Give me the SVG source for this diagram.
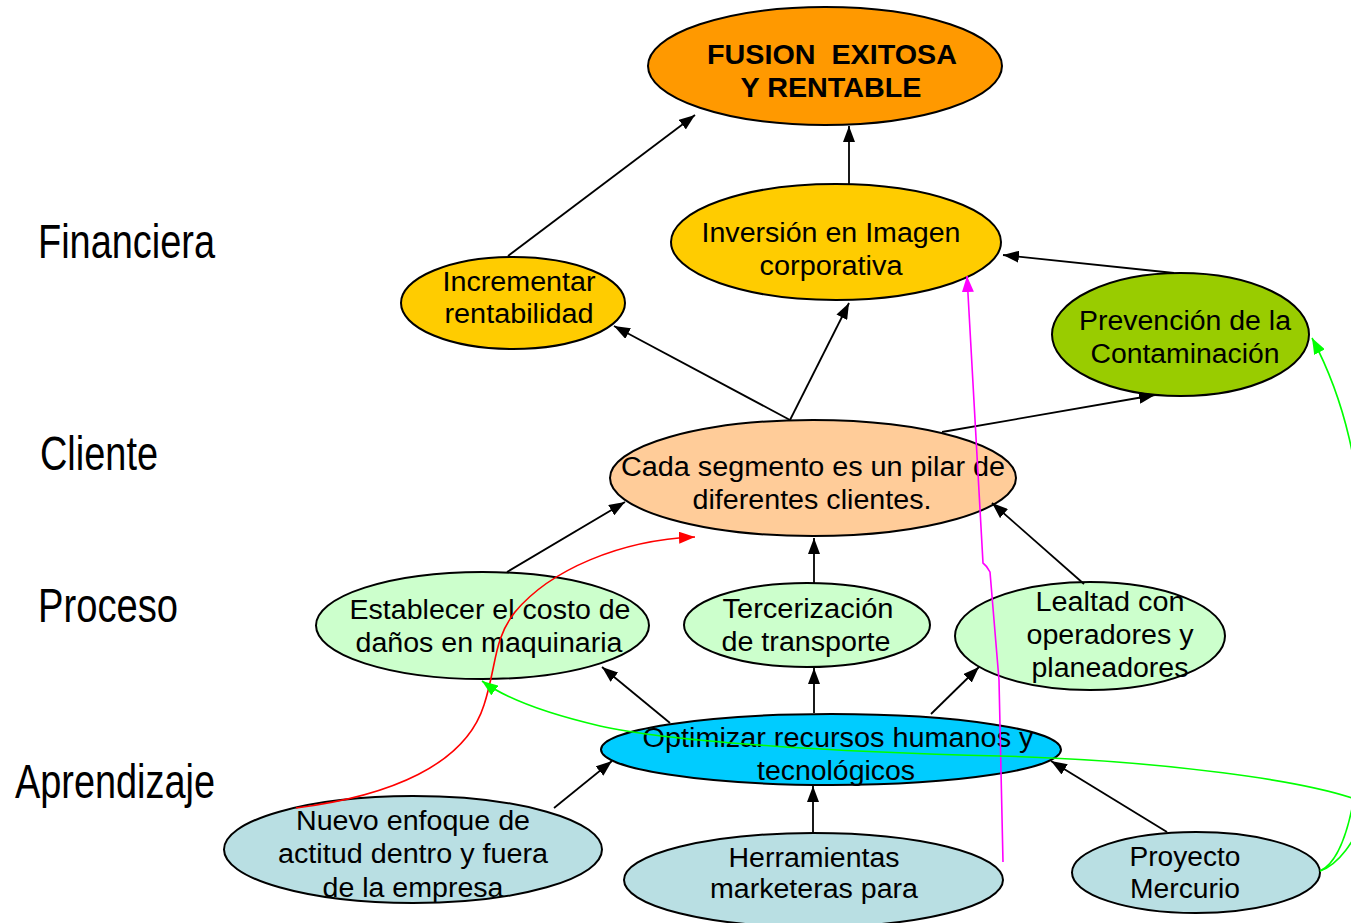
<svg xmlns="http://www.w3.org/2000/svg" width="1351" height="923" viewBox="0 0 1351 923">
<style>
  .n { stroke: #000; stroke-width: 2; }
  .t { font-family: "Liberation Sans", Arial, sans-serif; font-size: 27px; fill: #000; text-anchor: middle; }
  .b { font-weight: bold; font-size: 28px; }
  .lab { font-family: "Liberation Sans", Arial, sans-serif; font-size: 48px; fill: #000; }
  .k { stroke: #000; stroke-width: 1.8; fill: none; marker-end: url(#ak); }
  .red { stroke: #FF0000; stroke-width: 1.6; fill: none; marker-end: url(#ar); }
  .mag { stroke: #FF00FF; stroke-width: 1.6; fill: none; marker-end: url(#am); }
  .grn { stroke: #00FF00; stroke-width: 1.6; fill: none; }
</style>
<defs>
  <marker id="ak" viewBox="0 0 16 12" refX="16" refY="6" markerWidth="16" markerHeight="12" markerUnits="userSpaceOnUse" orient="auto"><path d="M0,0 L16,6 L0,12 z" fill="#000"/></marker>
  <marker id="ar" viewBox="0 0 16 12" refX="16" refY="6" markerWidth="16" markerHeight="12" markerUnits="userSpaceOnUse" orient="auto"><path d="M0,0 L16,6 L0,12 z" fill="#FF0000"/></marker>
  <marker id="am" viewBox="0 0 16 12" refX="16" refY="6" markerWidth="16" markerHeight="12" markerUnits="userSpaceOnUse" orient="auto"><path d="M0,0 L16,6 L0,12 z" fill="#FF00FF"/></marker>
  <marker id="ag" viewBox="0 0 16 12" refX="16" refY="6" markerWidth="16" markerHeight="12" markerUnits="userSpaceOnUse" orient="auto"><path d="M0,0 L16,6 L0,12 z" fill="#00FF00"/></marker>
</defs>
<rect width="1351" height="923" fill="#fff"/>

<g id="labels">
  <text class="lab" x="38" y="258" textLength="177" lengthAdjust="spacingAndGlyphs">Financiera</text>
  <text class="lab" x="40" y="470" textLength="118" lengthAdjust="spacingAndGlyphs">Cliente</text>
  <text class="lab" x="38" y="622" textLength="140" lengthAdjust="spacingAndGlyphs">Proceso</text>
  <text class="lab" x="15" y="798" textLength="200" lengthAdjust="spacingAndGlyphs">Aprendizaje</text>
</g>

<g id="fusion">
  <ellipse class="n" cx="825" cy="66" rx="177" ry="59" fill="#FF9900"/>
  <text class="t b" x="832" y="64" xml:space="preserve" textLength="250" lengthAdjust="spacingAndGlyphs">FUSION  EXITOSA</text>
  <text class="t b" x="831" y="97" textLength="181" lengthAdjust="spacingAndGlyphs">Y RENTABLE</text>
</g>
<g id="inversion">
  <ellipse class="n" cx="836" cy="242" rx="165" ry="58" fill="#FFCC00"/>
  <text class="t" x="831" y="242" textLength="259" lengthAdjust="spacingAndGlyphs">Inversión en Imagen</text>
  <text class="t" x="831" y="275" textLength="143" lengthAdjust="spacingAndGlyphs">corporativa</text>
</g>
<g id="incrementar">
  <ellipse class="n" cx="513" cy="303" rx="112" ry="46" fill="#FFCC00"/>
  <text class="t" x="519" y="291" textLength="153" lengthAdjust="spacingAndGlyphs">Incrementar</text>
  <text class="t" x="519" y="323" textLength="149" lengthAdjust="spacingAndGlyphs">rentabilidad</text>
</g>
<g id="prevencion">
  <ellipse class="n" cx="1180.5" cy="334.5" rx="128.5" ry="61.5" fill="#99CC00"/>
  <text class="t" x="1185" y="330" textLength="212" lengthAdjust="spacingAndGlyphs">Prevención de la</text>
  <text class="t" x="1185" y="363" textLength="189" lengthAdjust="spacingAndGlyphs">Contaminación</text>
</g>
<g id="cada">
  <ellipse class="n" cx="813" cy="478" rx="203" ry="58" fill="#FFCC99"/>
  <text class="t" x="813" y="476" textLength="384" lengthAdjust="spacingAndGlyphs">Cada segmento es un pilar de</text>
  <text class="t" x="812" y="509" textLength="239" lengthAdjust="spacingAndGlyphs">diferentes clientes.</text>
</g>
<g id="establecer">
  <ellipse class="n" cx="482.5" cy="625.5" rx="166.5" ry="53.5" fill="#CCFFCC"/>
  <text class="t" x="490" y="619" textLength="281" lengthAdjust="spacingAndGlyphs">Establecer el costo de</text>
  <text class="t" x="489" y="652" textLength="267" lengthAdjust="spacingAndGlyphs">daños en maquinaria</text>
</g>
<g id="tercerizacion">
  <ellipse class="n" cx="807" cy="625" rx="123" ry="42" fill="#CCFFCC"/>
  <text class="t" x="808" y="618" textLength="171" lengthAdjust="spacingAndGlyphs">Tercerización</text>
  <text class="t" x="806" y="651" textLength="169" lengthAdjust="spacingAndGlyphs">de transporte</text>
</g>
<g id="lealtad">
  <ellipse class="n" cx="1090" cy="636" rx="135" ry="54" fill="#CCFFCC"/>
  <text class="t" x="1110" y="611" textLength="149" lengthAdjust="spacingAndGlyphs">Lealtad con</text>
  <text class="t" x="1110" y="644" textLength="167" lengthAdjust="spacingAndGlyphs">operadores y</text>
  <text class="t" x="1110" y="677" textLength="157" lengthAdjust="spacingAndGlyphs">planeadores</text>
</g>
<g id="optimizar">
  <ellipse class="n" cx="831" cy="749.5" rx="230" ry="35.5" fill="#00CCFF"/>
  <text class="t" x="838" y="747" textLength="391" lengthAdjust="spacingAndGlyphs">Optimizar recursos humanos y</text>
  <text class="t" x="836" y="780" textLength="158" lengthAdjust="spacingAndGlyphs">tecnológicos</text>
</g>
<g id="nuevo">
  <ellipse class="n" cx="413" cy="849.5" rx="189" ry="53.5" fill="#B9DFE3"/>
  <text class="t" x="413" y="830" textLength="234" lengthAdjust="spacingAndGlyphs">Nuevo enfoque de</text>
  <text class="t" x="413" y="863" textLength="270" lengthAdjust="spacingAndGlyphs">actitud dentro y fuera</text>
  <text class="t" x="413" y="897" textLength="181" lengthAdjust="spacingAndGlyphs">de la empresa</text>
</g>
<g id="herramientas">
  <ellipse class="n" cx="813.5" cy="880" rx="189.5" ry="47" fill="#B9DFE3"/>
  <text class="t" x="814" y="867" textLength="171" lengthAdjust="spacingAndGlyphs">Herramientas</text>
  <text class="t" x="814" y="898" textLength="208" lengthAdjust="spacingAndGlyphs">marketeras para</text>
</g>
<g id="proyecto">
  <ellipse class="n" cx="1196" cy="872.5" rx="124" ry="40.5" fill="#B9DFE3"/>
  <text class="t" x="1185" y="866" textLength="111" lengthAdjust="spacingAndGlyphs">Proyecto</text>
  <text class="t" x="1185" y="898" textLength="110" lengthAdjust="spacingAndGlyphs">Mercurio</text>
</g>

<g id="connectors">
  <line class="k" x1="508" y1="256" x2="695" y2="115"/>
  <line class="k" x1="849" y1="184" x2="849" y2="126"/>
  <line class="k" x1="1174" y1="273" x2="1003" y2="255"/>
  <line class="k" x1="790" y1="420" x2="614" y2="326"/>
  <line class="k" x1="790" y1="420" x2="849" y2="303"/>
  <line class="k" x1="942" y1="432" x2="1155" y2="395"/>
  <line class="k" x1="507" y1="572" x2="625" y2="502"/>
  <line class="k" x1="814" y1="583" x2="814" y2="538"/>
  <line class="k" x1="1084" y1="584" x2="992" y2="503"/>
  <line class="k" x1="670" y1="723" x2="602" y2="667"/>
  <line class="k" x1="814" y1="713" x2="814" y2="668"/>
  <line class="k" x1="931" y1="714" x2="979" y2="667"/>
  <line class="k" x1="554" y1="808" x2="612" y2="761"/>
  <line class="k" x1="813" y1="833" x2="813" y2="786"/>
  <line class="k" x1="1167" y1="832" x2="1051" y2="761"/>
  <path class="red" d="M296,808 C390,796 465,765 484,705 C497,665 493,640 515,612 C550,570 620,540 695,537"/>
  <path class="mag" d="M1003,862 L999,680 L990,572 Q987,566 983,563 L967,276"/>
  <path class="grn" style="marker-end:url(#ag)" d="M1320,871 C1362,852 1368,700 1364,560 C1361,470 1345,400 1312,338"/>
  <path class="grn" style="marker-end:url(#ag)" d="M1320,871 C1345,862 1358,830 1372,806 C1320,780 1150,760 1000,756 C820,752 660,740 600,726 C540,712 505,698 482,681"/>
</g>
</svg>
